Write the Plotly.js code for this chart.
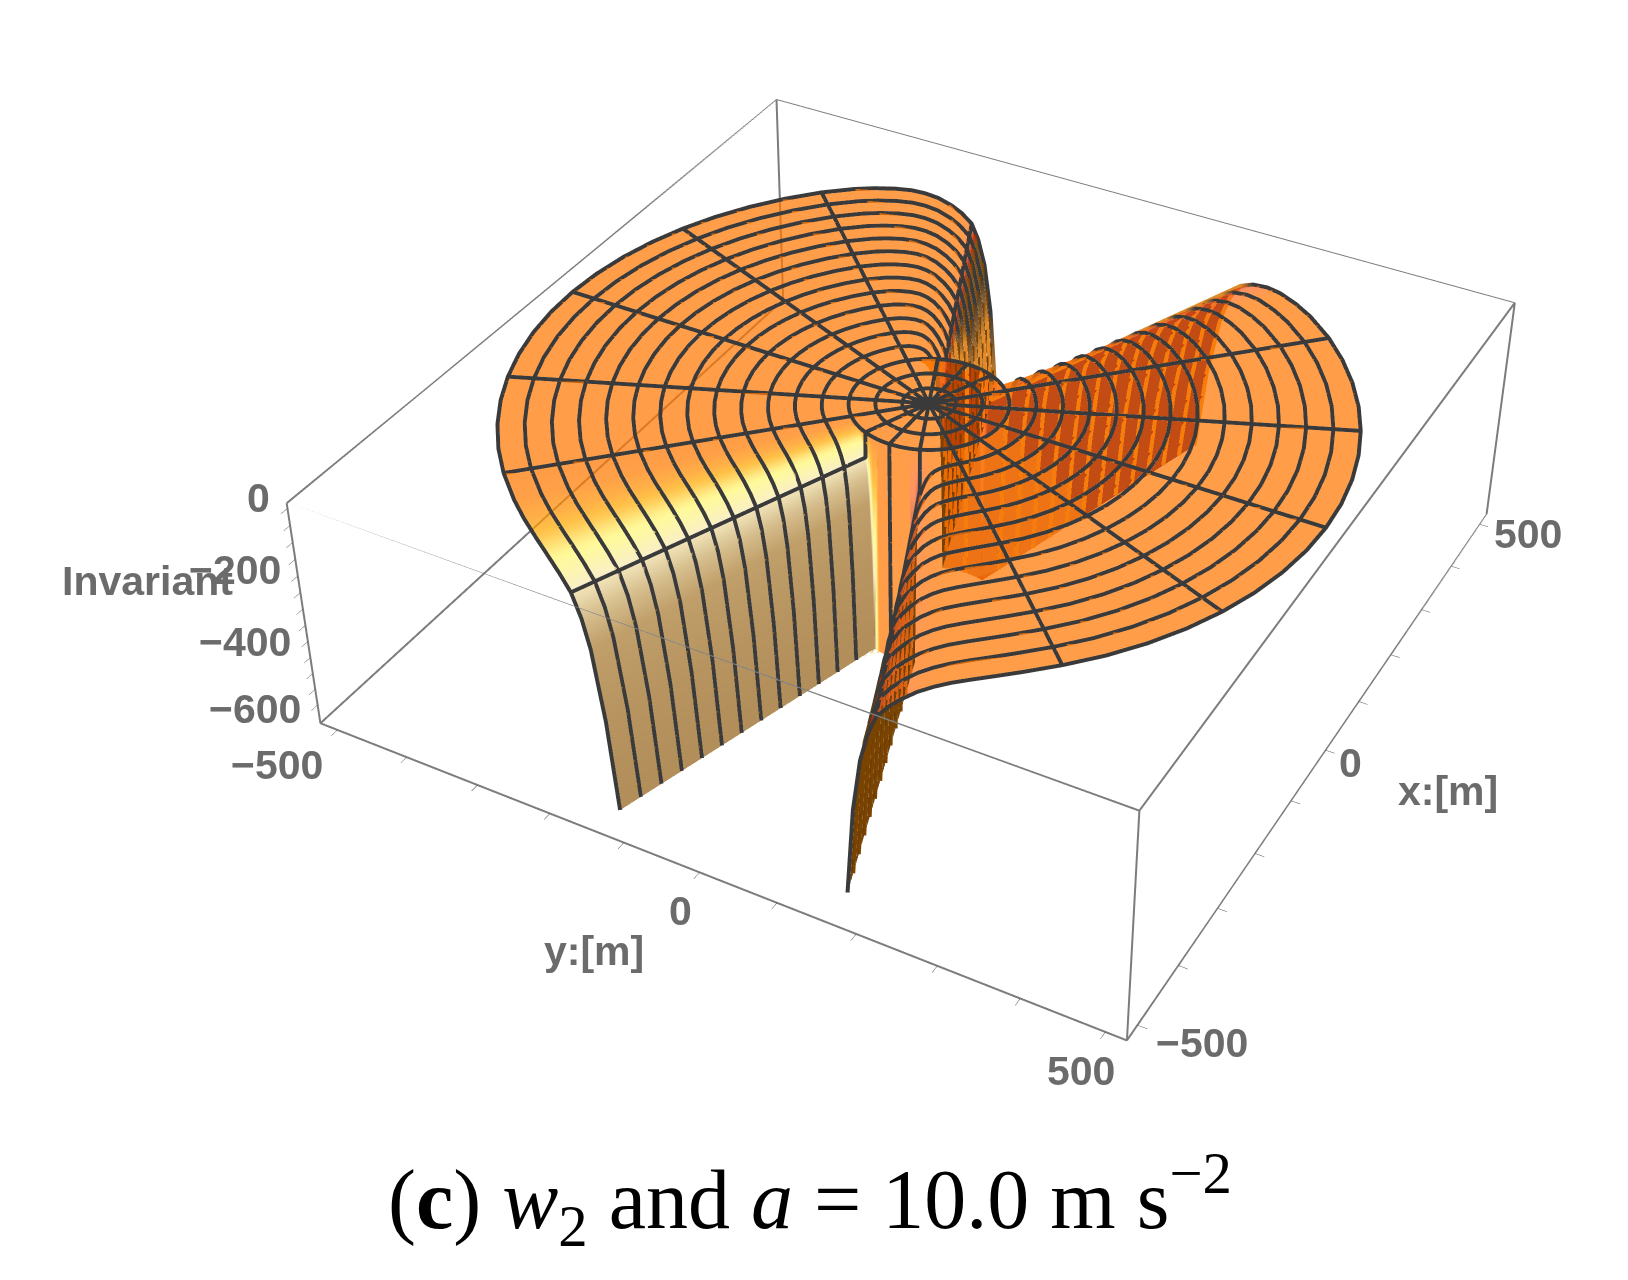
<!DOCTYPE html>
<html>
<head>
<meta charset="utf-8">
<script src="https://cdn.plot.ly/plotly-3.0.1.min.js"></script>
<style>
html,body{margin:0;padding:0;background:#fff;overflow:hidden}
#frame{position:relative;width:1628px;height:1280px;overflow:hidden}
#chart{position:absolute;left:15px;top:-771px;width:1828px;height:2560px}
</style>
</head>
<body>
<div id="frame"><div id="chart"></div></div>
<script>
// Values: rings are evenly spaced, spokes every 22.5 deg
const ringRadii = [31.25, 62.5, 93.75, 125, 156.25, 187.5, 218.75, 250, 281.25, 312.5, 343.75, 375, 406.25, 437.5, 468.75, 500];
const spokeAngles = [0, 22.5, 45, 67.5, 90, 112.5, 135, 157.5, 180, 202.5, 225, 247.5, 270, 292.5, 315, 337.5];
const discRadius = 93.75;
const wallTopRadius = 94;
const wallRadius = 94.5;
const floorValue = -659;
const xyEdge = 525;
const zTop = 15;

// Sample angles (deg) and the invariant outside the central disc, null where it runs below the floor
const sheetAngles = [
    0, 5, 10, 15.5, 17, 19, 20.5, 22.5, 25, 28, 31, 35, 39, 45, 50.6, 56.25, 61.9, 67.5, 73.1, 78.75, 84.4, 90,
    95.6, 101.25, 106.9, 112.5, 118.1, 123.75, 129.4, 135, 140, 143, 146, 148.5, 150.5, 152.5, 154.5, 156, 157.5, 158.5, 159.5, 160.5, 161.4, 165, 172,
    180, 185, 190, 195.5, 197, 199, 200.5, 202.5, 205, 208, 211, 215, 219, 225, 230.6, 236.25, 241.9, 247.5, 253.1, 258.75, 264.4, 270,
    275.6, 281.25, 286.9, 292.5, 298.1, 303.75, 309.4, 315, 320, 323, 326, 328.5, 330.5, 332.5, 334.5, 336, 337.5, 338.5, 339.5, 340.5, 341.4, 345, 352, 360
];
const sheetValues = [
    null, null, null, -659, -400, -205, -130, -75, -48, -28, -16, -8, -3, 0, 0, 0, 0, 0, 0, 0, 0, 0,
    0, 0, 0, 0, 0, 0, 0, 0, -2, -5, -10, -17, -27, -42, -65, -88, -120, -170, -250, -400, -659, null, null,
    null, null, null, -659, -400, -205, -130, -75, -48, -28, -16, -8, -3, 0, 0, 0, 0, 0, 0, 0, 0, 0,
    0, 0, 0, 0, 0, 0, 0, 0, -2, -5, -10, -17, -27, -42, -65, -88, -120, -170, -250, -400, -659, null, null, null
];

const xyTicks = [-500, -400, -300, -200, -100, 0, 100, 200, 300, 400, 500];
const zTicks = [0, -50, -100, -150, -200, -250, -300, -350, -400, -450, -500, -550, -600];
const yLabels = [-500, 0, 500];
const xLabels = [-500, 0, 500];
const zLabels = [0, -200, -400, -600];

// Tone along the sheet, looked up in the colour ramp below
const sheetTones = [
    0.26, 0.26, 0.26, 0.26, 0.26, 0.26, 0.26, 0.28, 0.38, 0.45, 0.5, 0.5, 0.5, 0.5, 0.5, 0.5, 0.5, 0.5, 0.5, 0.5, 0.5, 0.5,
    0.5, 0.5, 0.5, 0.5, 0.5, 0.5, 0.5, 0.5, 0.5, 0.5, 0.5, 0.5, 0.49, 0.47, 0.44, 0.4, 0.36, 0.26, 0.12, 0.05, 0, 0.5, 0.5,
    0.5, 0.5, 0.5, 1, 0.97, 0.92, 0.88, 0.83, 0.76, 0.7, 0.62, 0.55, 0.51, 0.5, 0.5, 0.5, 0.5, 0.5, 0.5, 0.5, 0.5, 0.5,
    0.5, 0.5, 0.5, 0.5, 0.5, 0.5, 0.5, 0.5, 0.5, 0.5, 0.5, 0.5, 0.5, 0.5, 0.5, 0.5, 0.45, 0.12, 0.1, 0.05, 0, 0.26, 0.26, 0.26
];
const toneRamp = [
    [0, '#6b3a00'], [0.12, '#7d4400'], [0.28, '#b22800'], [0.4, '#ff6a2a'], [0.5, '#ff7700'],
    [0.6, '#ffa800'], [0.72, '#fff874'], [0.82, '#f8eab0'], [0.92, '#a87a30'], [1, '#94621a']
];
const lineRamp = [[0, '#3a3a3a'], [0.5, '#7a4400'], [1, '#e08a2a']];

const sheetRadii = [0].concat(ringRadii.slice(0, 3), [wallTopRadius, wallRadius], ringRadii.slice(3));

function valueAt(radius, angleIndex) {
    if (radius <= discRadius) return 0;
    const value = sheetValues[angleIndex];
    if (value !== null) return value;
    if (radius === wallTopRadius) return -5;
    return radius <= wallRadius ? floorValue : null;
}

function polarX(radius, angle) {
    return radius * Math.cos(angle * Math.PI / 180);
}

function polarY(radius, angle) {
    return radius * Math.sin(angle * Math.PI / 180);
}

function isFold(angle) {
    return (angle >= 157.5 && angle <= 161.4) || (angle >= 337.5 && angle <= 341.4);
}

// keepCell picks which stretch of the sheet goes in this trace
function buildSheet(keepCell, opacity) {
    const x = [], y = [], z = [], tone = [], i = [], j = [], k = [];
    const index = sheetRadii.map(r => sheetAngles.map((a, n) => {
        const value = valueAt(r, n);
        if (value === null) return -1;
        x.push(polarX(r, a));
        y.push(polarY(r, a));
        z.push(value);
        tone.push(r <= discRadius ? 0.5 : sheetTones[n]);
        return x.length - 1;
    }));
    const face = (a, b, c) => {
        if (a < 0 || b < 0 || c < 0) return;
        i.push(a); j.push(b); k.push(c);
    };
    for (let r = 0; r < sheetRadii.length - 1; r++) {
        for (let n = 0; n < sheetAngles.length - 1; n++) {
            if (!keepCell(sheetRadii[r], sheetAngles[n], sheetAngles[n + 1])) continue;
            face(index[r][n], index[r + 1][n], index[r + 1][n + 1]);
            face(index[r][n], index[r + 1][n + 1], index[r][n + 1]);
        }
    }
    return {
        type: 'mesh3d',
        x, y, z, i, j, k,
        intensity: tone,
        intensitymode: 'vertex',
        cmin: 0,
        cmax: 1,
        colorscale: toneRamp,
        showscale: false,
        opacity: opacity,
        hoverinfo: 'skip',
        lighting: { ambient: 1, diffuse: 0, specular: 0, roughness: 1, fresnel: 0 }
    };
}

// Mesh lines that sit behind the sheet read only faintly in the picture
function lineTone(radius, angle, value) {
    if (radius <= discRadius) return 0;
    if (angle < 25) return 1;
    if (angle > 337.5 && angle < 342 && value < -(radius - discRadius)) return 1;
    if (angle >= 159 && angle < 162 && value < -240 && radius < 500) return 0.5;
    return 0;
}

function buildMesh() {
    const xs = [], ys = [], zs = [], tones = [];
    const push = (x, y, z, t) => { xs.push(x); ys.push(y); zs.push(z); tones.push(t); };

    ringRadii.forEach(r => {
        sheetAngles.forEach((a, n) => {
            const value = valueAt(r, n);
            push(polarX(r, a), polarY(r, a), value, lineTone(r, a, value));
        });
        push(null, null, null, 0);
    });
    spokeAngles.forEach(a => {
        const n = sheetAngles.indexOf(a);
        sheetRadii.forEach(r => {
            const value = valueAt(r, n);
            push(polarX(r, a), polarY(r, a), value, lineTone(r, a, value));
        });
        push(null, null, null, 0);
    });

    return {
        type: 'scatter3d',
        mode: 'lines',
        x: xs,
        y: ys,
        z: zs,
        connectgaps: false,
        hoverinfo: 'skip',
        line: { color: tones, colorscale: lineRamp, cmin: 0, cmax: 1, width: 8 }
    };
}

// The plot box: plotly only mirrors part of it, so each edge gets its own trace
function buildBox() {
    const e = xyEdge, f = floorValue, t = zTop;
    const edges = [
        [[-e, -e, t], [e, -e, t]], [[e, -e, t], [e, e, t]], [[e, e, t], [-e, e, t]], [[-e, e, t], [-e, -e, t]],
        [[-e, -e, f], [e, -e, f]], [[e, -e, f], [e, e, f]], [[e, e, f], [-e, e, f]], [[-e, e, f], [-e, -e, f]],
        [[-e, -e, t], [-e, -e, f]], [[e, -e, t], [e, -e, f]], [[e, e, t], [e, e, f]], [[-e, e, t], [-e, e, f]]
    ];
    return edges.map(([a, b]) => ({
        type: 'scatter3d',
        mode: 'lines',
        x: [a[0], b[0]],
        y: [a[1], b[1]],
        z: [a[2], b[2]],
        hoverinfo: 'skip',
        line: { color: '#7c7c7c', width: 4 }
    }));
}

const axisStyle = {
    showgrid: false,
    zeroline: false,
    showbackground: false,
    showspikes: false,
    showticklabels: false,
    showline: true,
    mirror: true,
    linecolor: '#7c7c7c',
    linewidth: 2,
    ticks: 'inside',
    ticklen: 8,
    tickcolor: '#555555',
    tickwidth: 1,
    tickmode: 'array',
    title: { text: '' }
};

const labelFont = { family: 'Liberation Sans, Arial, sans-serif', size: 41, color: '#6b6b6b', weight: 'bold' };
const label = (x, y, z, text, xshift, yshift) => ({
    x, y, z, text, xshift, yshift, showarrow: false, font: labelFont
});
const minus = v => String(v).replace('-', '\u2212');

const zShifts = [10, 6, -1, -4];
const yShifts = [[-60, -35], [-19, -39], [-24, -39]];
const xShifts = [[65, -18], [25, -13], [48, -10]];
const sceneLabels = [
    ...zLabels.map((v, i) => ({ ...label(-xyEdge, -xyEdge, v, minus(v), -15, zShifts[i]), xanchor: 'right' })),
    ...yLabels.map((v, i) => label(-xyEdge, v, floorValue, minus(v), yShifts[i][0], yShifts[i][1])),
    ...xLabels.map((v, i) => label(v, xyEdge, floorValue, minus(v), xShifts[i][0], xShifts[i][1])),
    label(-xyEdge, -xyEdge, -200, 'Invariant', -150, -5),
    label(-xyEdge, 0, floorValue, 'y:[m]', -106, -79),
    label(0, xyEdge, floorValue, 'x:[m]', 123, -41)
];

const layout = {
    width: 1828,
    height: 2560,
    paper_bgcolor: 'white',
    showlegend: false,
    margin: { t: 0, r: 0, b: 0, l: 0 },
    title: {
        text: '(<b>c</b>) <i>w</i><sub>2</sub> and <i>a</i> = 10.0 m s<sup>\u22122</sup>',
        font: { family: 'Liberation Serif, serif', size: 84, color: '#000000' },
        x: 0.4349,
        xanchor: 'center',
        y: 0.2305,
        yanchor: 'middle'
    },
    scene: {
        domain: { x: [0, 1], y: [0, 1] },
        aspectmode: 'manual',
        aspectratio: { x: 1, y: 1, z: 0.305 },
        camera: {
            eye: { x: -2.476, y: -1.367, z: 2.09 },
            center: { x: 0, y: 0, z: 0 },
            up: { x: 0, y: 0, z: 1 },
            projection: { type: 'perspective' }
        },
        xaxis: { ...axisStyle, range: [-xyEdge, xyEdge], tickvals: xyTicks },
        yaxis: { ...axisStyle, range: [xyEdge, -xyEdge], tickvals: xyTicks },
        zaxis: { ...axisStyle, range: [floorValue, zTop], tickvals: zTicks },
        annotations: sceneLabels
    }
};

const traces = [
    ...buildBox(),
    buildSheet((r, a0, a1) => !(r > discRadius && isFold(a0) && isFold(a1)), 0.72),
    buildSheet((r, a0, a1) => r > discRadius && isFold(a0) && isFold(a1), 0.92),
    buildMesh()
];

Plotly.newPlot('chart', traces, layout, { displayModeBar: false, responsive: false });
</script>
</body>
</html>
